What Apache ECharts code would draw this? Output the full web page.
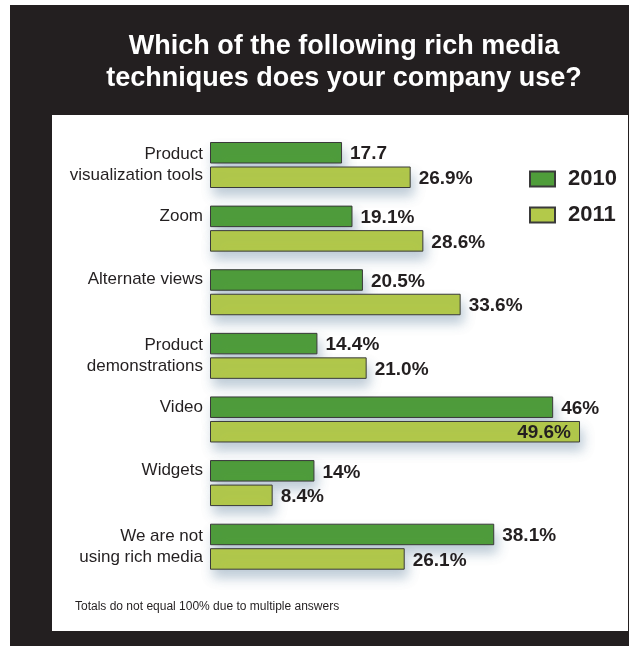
<!DOCTYPE html>
<html>
<head>
<meta charset="utf-8">
<script src="https://cdn.jsdelivr.net/npm/echarts@6/dist/echarts.min.js"></script>
<style>
  html, body { margin: 0; padding: 0; background: #ffffff; }
  #chart { width: 629px; height: 646px; }
</style>
</head>
<body>
<div id="chart"></div>
<script>
// Survey answers, one row per technique
const categories = [
  'Product\nvisualization tools',
  'Zoom',
  'Alternate views',
  'Product\ndemonstrations',
  'Video',
  'Widgets',
  'We are not\nusing rich media'
];
const years = ['2010', '2011'];
const values2010 = [17.7, 19.1, 20.5, 14.4, 46, 14, 38.1];
const values2011 = [26.9, 28.6, 33.6, 21.0, 49.6, 8.4, 26.1];
const labels2010 = ['17.7', '19.1%', '20.5%', '14.4%', '46%', '14%', '38.1%'];
const labels2011 = ['26.9%', '28.6%', '33.6%', '21.0%', '49.6%', '8.4%', '26.1%'];

const titleText = 'Which of the following rich media\ntechniques does your company use?';
const noteText = 'Totals do not equal 100% due to multiple answers';

const FONT = '"Liberation Sans", Arial, Helvetica, sans-serif';
const INK = '#231f20';
const GREEN = '#4f9d3a';
const LIME = '#b3c94a';

const chart = echarts.init(document.getElementById('chart'), null, { renderer: 'canvas' });

const longest = Math.max(...values2010, ...values2011);

function barSeries(name, values, labels, color) {
  return {
    name: name,
    type: 'bar',
    barWidth: 21.5,
    barGap: '14%',
    data: values.map(v => {
      const item = { value: v };
      // the longest bar carries its value inside the bar end
      if (v === longest) {
        item.label = { position: 'insideRight', distance: 9 };
      }
      return item;
    }),
    itemStyle: {
      color: color,
      borderColor: '#3a3a3a',
      borderWidth: 1,
      shadowColor: 'rgba(70, 110, 140, 0.35)',
      shadowBlur: 12,
      shadowOffsetX: 3,
      shadowOffsetY: 8
    },
    label: {
      show: true,
      position: 'right',
      distance: 8,
      offset: [0, 1.5],
      color: INK,
      fontFamily: FONT,
      fontWeight: 'bold',
      fontSize: 19,
      formatter: p => labels[p.dataIndex]
    },
    emphasis: { disabled: true }
  };
}

const option = {
  animation: false,
  backgroundColor: '#ffffff',
  textStyle: { fontFamily: FONT },
  graphic: [
    { type: 'rect', z: -10, silent: true,
      shape: { x: 10, y: 5, width: 619, height: 641 },
      style: { fill: INK } },
    { type: 'rect', z: -9, silent: true,
      shape: { x: 52, y: 115, width: 576, height: 516 },
      style: { fill: '#ffffff' } },
    { type: 'text', z: 10, silent: true,
      style: {
        text: titleText, x: 344, y: 31,
        align: 'center', verticalAlign: 'top',
        fill: '#ffffff', font: 'bold 27px ' + FONT, lineHeight: 32
      } },
    { type: 'text', z: 10, silent: true,
      style: {
        text: noteText, x: 75, y: 607,
        align: 'left', verticalAlign: 'middle',
        fill: INK, font: '12px ' + FONT
      } }
  ],
  legend: {
    data: years,
    orient: 'vertical',
    left: 529,
    top: 168,
    padding: 0,
    itemWidth: 25,
    itemHeight: 15,
    itemGap: 14,
    icon: 'rect',
    selectedMode: false,
    formatter: n => '{t|' + n + '}',
    textStyle: {
      color: INK,
      fontFamily: FONT,
      rich: { t: { fontSize: 22, fontWeight: 'bold', color: INK, padding: [0, 0, 0, 8], fontFamily: FONT } }
    }
  },
  grid: { left: 210, top: 133.2, width: 373, height: 445.3 },
  xAxis: {
    type: 'value', min: 0, max: 50,
    show: false
  },
  yAxis: {
    type: 'category',
    inverse: true,
    data: categories,
    axisLine: { show: false },
    axisTick: { show: false },
    splitLine: { show: false },
    axisLabel: {
      margin: 7,
      color: INK,
      fontFamily: FONT,
      fontSize: 17,
      lineHeight: 21,
      // single-line names sit level with the 2010 bar
      formatter: v => v.indexOf('\n') < 0 ? '{one|' + v + '}' : v,
      rich: { one: { fontSize: 17, color: INK, fontFamily: FONT, padding: [0, 0, 25, 0] } }
    }
  },
  series: [
    barSeries(years[0], values2010, labels2010, GREEN),
    barSeries(years[1], values2011, labels2011, LIME)
  ]
};

chart.setOption(option);
</script>
</body>
</html>
